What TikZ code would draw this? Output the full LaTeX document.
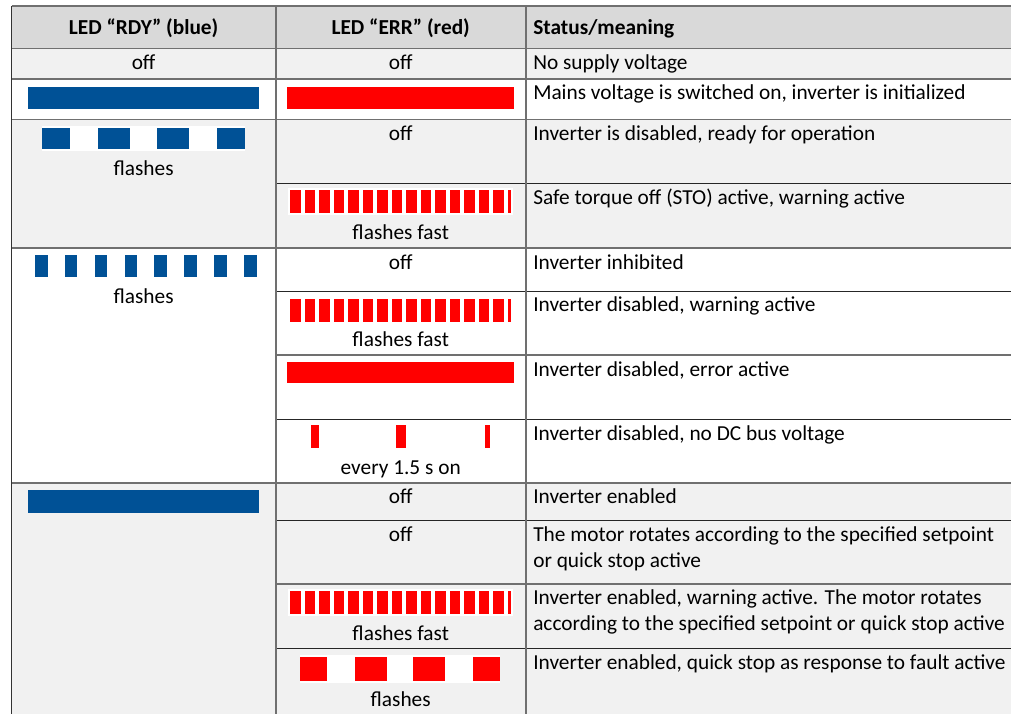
\documentclass[tikz,border=0pt]{standalone}
\usepackage{fontspec}
\setmainfont{Carlito}
\definecolor{ledblue}{RGB}{0,81,150}
\definecolor{ledred}{RGB}{255,0,0}
\definecolor{hdrgray}{RGB}{217,217,217}
\definecolor{bandgray}{RGB}{241,241,241}
\definecolor{rulegray}{RGB}{112,112,112}
\newcommand{\ledfast}[1]{%
  \fill[white] (288,#1-2) rectangle (513,#1+25);
  \foreach \k in {0,...,15}{%
    \pgfmathsetmacro\xa{290+14.5*\k}%
    \pgfmathsetmacro\xb{min(\xa+10.5,511)}%
    \fill[ledred] (\xa,#1) rectangle (\xb,#1+23);
  }%
}
\begin{document}
\begin{tikzpicture}[x=0.75pt,y=-0.75pt,
  txt/.style={inner sep=0pt, font=\fontsize{16}{19}\selectfont, text=black},
  ctr/.style={txt, anchor=mid},
  lft/.style={txt, anchor=mid west},
  hdr/.style={txt, font=\fontsize{16}{19}\selectfont\bfseries},
  major/.style={draw=rulegray, line width=1.2pt},
  minor/.style={draw=black!85, line width=0.75pt},
  vline/.style={draw=rulegray, line width=1.3pt}]
\useasboundingbox (0,0) rectangle (1011,714);
\clip (0,0) rectangle (1011,714);
% cell backgrounds
\fill[white] (0,0) rectangle (1011,714);
\fill[hdrgray] (11.5,6) rectangle (1030,48.5);
\fill[bandgray] (11.5,48.5) rectangle (1030,79);
\fill[bandgray] (11.5,119.5) rectangle (1030,248);
\fill[bandgray] (11.5,483) rectangle (1030,730);
% horizontal rules
\foreach \y in {6,48.5,79,119.5,248,483}{\draw[major] (11.5,\y) -- (1030,\y);}
\foreach \y in {183.5,291,419,520,648}{\draw[minor] (275.7,\y) -- (1030,\y);}
\foreach \y in {355,584}{\draw[major] (275.7,\y) -- (1030,\y);}
% vertical rules
\draw[draw=black!80, line width=1.2pt] (11.5,6) -- (11.5,730);
\draw[vline] (275.7,6) -- (275.7,730);
\draw[vline] (525.7,6) -- (525.7,730);

% header
\node[hdr, anchor=mid] (h1) at (143.6,31.5) {LED “RDY” (blue)};
\node[hdr, anchor=mid] (h2) at (400.7,31.5) {LED “ERR” (red)};
\node[hdr, anchor=mid west] (h3) at (533,31.5) {Status/meaning};

% column 1
\node[ctr] (a1) at (143.6,66.5) {off};
\fill[ledblue] (28,86.5) rectangle (259,109);
\fill[white] (41.5,125.5) rectangle (244.7,151);
\foreach \xa/\xb in {41.5/70, 97.5/129.6, 157.3/189.3, 217.3/244.7}{\fill[ledblue] (\xa,127.5) rectangle (\xb,148.8);}
\node[ctr] (a3) at (143.6,172) {flashes};
\foreach \k in {0,...,7}{\fill[ledblue] (34.8+29.9*\k,255.2) rectangle (47.5+29.9*\k,277.1);}
\node[ctr] (a4) at (143.6,300) {flashes};
\fill[ledblue] (28,490.3) rectangle (259,513);

% column 2
\node[ctr] (b1) at (400.7,66.5) {off};
\fill[ledred] (287,86.5) rectangle (514,109);
\node[ctr] (b3a) at (400.7,137) {off};
\ledfast{190}
\node[ctr] (b3b) at (400.7,236) {flashes fast};
\node[ctr] (b4a) at (400.7,266) {off};
\ledfast{298.5}
\node[ctr] (b4b) at (400.7,343) {flashes fast};
\fill[ledred] (286.7,362.3) rectangle (514,383.3);
\foreach \xa/\xb in {311/318.7, 395.7/406.3, 485.3/490}{\fill[ledred] (\xa,425) rectangle (\xb,447.7);}
\node[ctr] (b4d) at (400.7,471) {every 1.5 s on};
\node[ctr] (b5a) at (400.7,500) {off};
\node[ctr] (b5b) at (400.7,538) {off};
\ledfast{591}
\node[ctr] (b5c) at (400.7,637) {flashes fast};
\fill[white] (299.7,655) rectangle (500.2,683);
\foreach \xa/\xb in {299.7/327.4, 355.4/387.1, 413.4/444.8, 472.8/500.2}{\fill[ledred] (\xa,656.7) rectangle (\xb,681.3);}
\node[ctr] (b5d) at (400.7,703) {flashes};

% column 3
\node[lft] (c1) at (533,66.5) {No supply voltage};
\node[lft] (c2) at (533,96) {Mains voltage is switched on, inverter is initialized};
\node[lft] (c3a) at (533,137) {Inverter is disabled, ready for operation};
\node[lft] (c3b) at (533,201) {Safe torque off (STO) active, warning active};
\node[lft] (c4a) at (533,266) {Inverter inhibited};
\node[lft] (c4b) at (533,308) {Inverter disabled, warning active};
\node[lft] (c4c) at (533,373) {Inverter disabled, error active};
\node[lft] (c4d) at (533,437) {Inverter disabled, no DC bus voltage};
\node[lft] (c5a) at (533,500) {Inverter enabled};
\node[lft] (c5b1) at (533,538) {The motor rotates according to the specified setpoint};
\node[lft] (c5b2) at (533,564) {or quick stop active};
\node[lft] (c5c1) at (533,601) {Inverter enabled, warning active. The motor rotates};
\node[lft] (c5c2) at (533,627) {according to the specified setpoint or quick stop active};
\node[lft] (c5d) at (533,666) {Inverter enabled, quick stop as response to fault active};
\end{tikzpicture}
\end{document}
